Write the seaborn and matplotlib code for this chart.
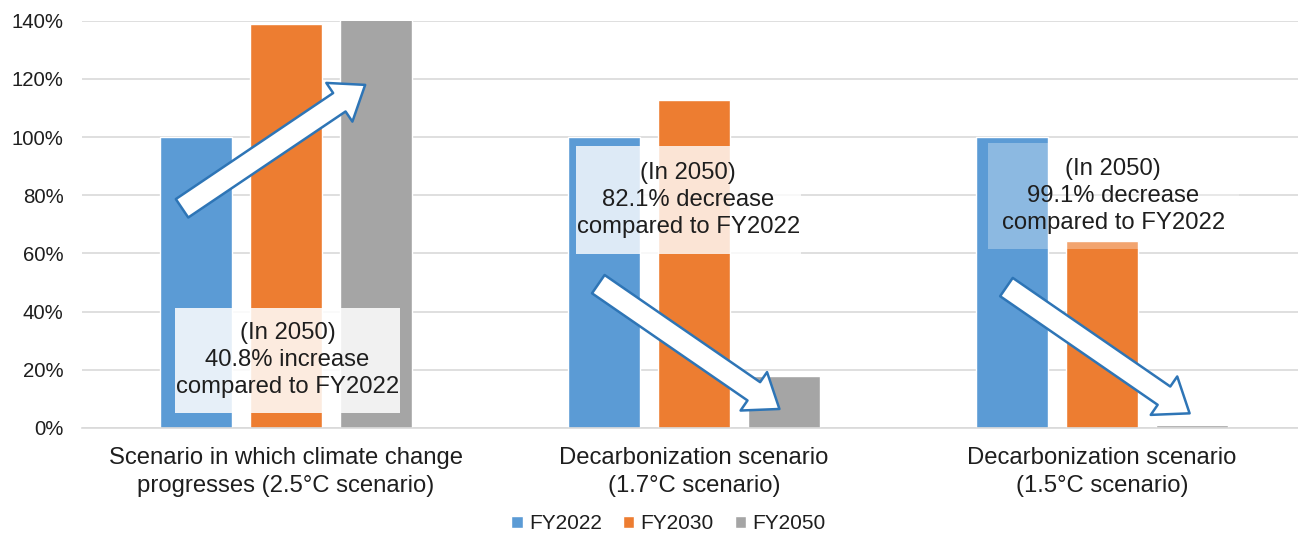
import numpy as np
import pandas as pd
import matplotlib
matplotlib.use("Agg")
import matplotlib.pyplot as plt
from matplotlib.patches import FancyArrowPatch, Rectangle
from matplotlib.ticker import PercentFormatter
import seaborn as sns

# data (FY2022 = 100%)
scenarios = [
    "Scenario in which climate change\nprogresses (2.5°C scenario)",
    "Decarbonization scenario\n(1.7°C scenario)",
    "Decarbonization scenario\n(1.5°C scenario)",
]
years = ["FY2022", "FY2030", "FY2050"]
fy2022 = [100, 100, 100]
fy2030 = [139, 112.6, 64.3]
fy2050 = [140.8, 17.9, 0.9]
notes = [
    "(In 2050)\n40.8% increase\ncompared to FY2022",
    "(In 2050)\n82.1% decrease\ncompared to FY2022",
    "(In 2050)\n99.1% decrease\ncompared to FY2022",
]
colors = ["#5B9BD5", "#ED7D31", "#A5A5A5"]
text_color = "#1E1E1E"

df = pd.DataFrame({
    "scenario": scenarios * 3,
    "year": np.repeat(years, 3),
    "value": fy2022 + fy2030 + fy2050,
})

sns.set_theme(style="white")
plt.rcParams["font.family"] = ["Liberation Sans", "DejaVu Sans"]

fig = plt.figure(figsize=(12.98, 5.33), dpi=100)
ax = fig.add_axes([0.063, 0.197, 0.937, 0.764])

sns.barplot(data=df, x="scenario", y="value", hue="year", palette=colors,
            width=0.66, gap=0.2, saturation=1, ax=ax, zorder=2)

ax.set_ylim(0, 140)
ax.set_xlim(-0.5, 2.48)
ax.set_yticks(np.arange(0, 141, 20))
ax.yaxis.set_major_formatter(PercentFormatter(decimals=0))
ax.grid(axis="y", color="#D9D9D9", linewidth=1.2, zorder=0)
ax.set_axisbelow(True)
for s in ["top", "right", "left"]:
    ax.spines[s].set_visible(False)
ax.spines["bottom"].set_color("#D9D9D9")
ax.spines["bottom"].set_linewidth(1.2)
ax.tick_params(axis="y", length=0, labelsize=14.7, labelcolor=text_color, pad=13)
ax.tick_params(axis="x", length=0, labelsize=17.2, labelcolor=text_color, pad=14)
for lbl in ax.get_xticklabels():
    lbl.set_linespacing(1.3)
ax.set_xlabel("")
ax.set_ylabel("")

# translucent note boxes: (x offset from group center, bottom %, width, height %, alpha)
boxes = [(-0.272, 5.2, 0.552, 36.1, 0.85),
         (-0.29, 59.8, 0.552, 37, 0.8),
         (-0.28, 61.5, 0.615, 36.5, 0.3)]
for i, (dx, y0, w, h, a) in enumerate(boxes):
    ax.add_patch(Rectangle((i + dx, y0), w, h, facecolor="white", alpha=a,
                           edgecolor="none", zorder=3))
    ax.text(i + dx + w / 2, y0 + h / 2, notes[i], ha="center", va="center",
            fontsize=17.2, color=text_color, linespacing=1.3, zorder=4)

# block arrows
arrows = [((-0.26, 75), (0.2, 118.5)), ((0.76, 50), (1.215, 6)), ((1.76, 49), (2.22, 4.5))]
for (xa, ya), (xb, yb) in arrows:
    ax.add_patch(FancyArrowPatch(
        (xa, ya), (xb, yb),
        arrowstyle="simple,head_length=1.4,head_width=2.1,tail_width=1.0",
        mutation_scale=16, facecolor="white", edgecolor="#2E75B6",
        linewidth=1.8, zorder=5))

leg = ax.legend(loc="center", bbox_to_anchor=(0.515, 0.017),
                bbox_transform=fig.transFigure, ncol=3, frameon=False,
                fontsize=15, handlelength=0.55, handleheight=0.55,
                handletextpad=0.3, columnspacing=1.0, borderpad=0)
for t in leg.get_texts():
    t.set_color(text_color)

fig.savefig("out.png", dpi=100)
